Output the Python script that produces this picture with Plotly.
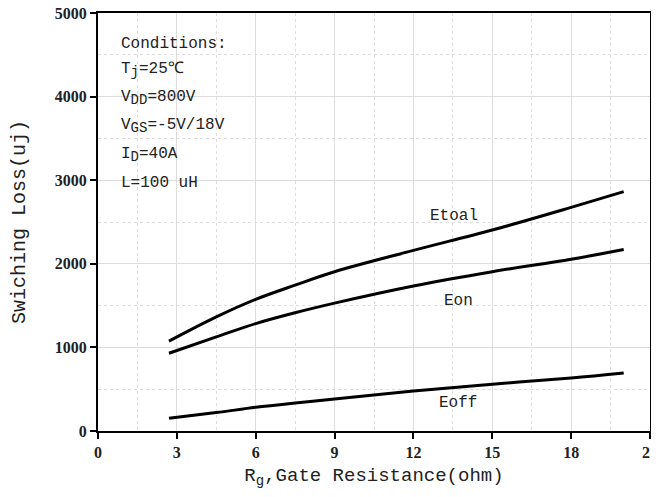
import plotly.graph_objects as go

rg = [2.7, 4.5, 6, 7.5, 9, 12, 15, 18, 20]
etotal = [1075, 1365, 1575, 1745, 1905, 2160, 2404, 2675, 2863]
eon = [930, 1125, 1285, 1415, 1530, 1735, 1906, 2054, 2170]
eoff = [152, 220, 283, 335, 383, 478, 560, 635, 695]

curve_labels = ["Etoal", "Eon", "Eoff"]
label_x = [13.56, 13.7, 13.7]
label_y = [2572, 1555, 335]

def sub(s):
    return '<sub><span style="font-size:14px">' + s + '</span></sub>'

conditions = ["Conditions:", "T" + sub("j") + "=25\u2103", "V" + sub("DD") + "=800V",
              "V" + sub("GS") + "=-5V/18V", "I" + sub("D") + "=40A", "L=100 uH"]
cond_y = [4629, 4318, 3983, 3648, 3301, 2967]

x_ticks = [0, 3, 6, 9, 12, 15, 18, 21]
y_ticks = [0, 1000, 2000, 3000, 4000, 5000]

mono = "Liberation Mono"
serif = "Liberation Serif"

fig = go.Figure()
for ys in (etotal, eon, eoff):
    fig.add_trace(go.Scatter(x=rg, y=ys, mode="lines", line=dict(color="black", width=3, shape="spline"),
                             showlegend=False, cliponaxis=False))

for t, x, y in zip(curve_labels, label_x, label_y):
    fig.add_annotation(x=x, y=y, text=t, showarrow=False, font=dict(family=mono, size=16, color="#222"))

fig.add_shape(type="rect", x0=0.42, x1=4.9, y0=2760, y1=4800, fillcolor="white", line=dict(width=0), layer="below")
for t, y in zip(conditions, cond_y):
    fig.add_annotation(x=0.8, y=y, text=t, showarrow=False, xanchor="left",
                       font=dict(family=mono, size=16, color="#222"))

grid = "#dddddd"
fig.update_xaxes(range=[0, 21], tickvals=x_ticks, ticktext=[str(v) for v in x_ticks], automargin=False,
                 ticklabeloverflow="allow",
                 showline=True, linecolor="black", linewidth=2, mirror=True,
                 ticks="outside", ticklen=6, tickwidth=2, tickcolor="black",
                 showgrid=True, gridcolor=grid, gridwidth=1, zeroline=False,
                 minor=dict(tickvals=[1.5, 4.5, 7.5, 10.5, 13.5, 16.5, 19.5], showgrid=True,
                            gridcolor=grid, griddash="dot", gridwidth=1),
                 tickfont=dict(family=serif, size=16, color="#222", weight="bold"),
                 title=dict(text="R" + sub("g") + ",Gate Resistance(ohm)", font=dict(family=mono, size=19, color="#222"),
                            standoff=9))
fig.update_yaxes(range=[0, 5000], tickvals=y_ticks, ticktext=[str(v) for v in y_ticks], automargin=False,
                 ticklabeloverflow="allow",
                 showline=True, linecolor="black", linewidth=2, mirror=True,
                 ticks="outside", ticklen=6, tickwidth=2, tickcolor="black",
                 showgrid=True, gridcolor=grid, gridwidth=1, zeroline=False,
                 minor=dict(tickvals=[500, 1500, 2500, 3500, 4500], showgrid=True,
                            gridcolor=grid, griddash="dot", gridwidth=1),
                 tickfont=dict(family=serif, size=16, color="#222", weight="bold"),
                 title=dict(text="Swiching Loss(uj)", font=dict(family=mono, size=20, color="#222"),
                            standoff=24))

fig.update_layout(width=651, height=481, margin=dict(l=90, r=9, t=5, b=58),
                  plot_bgcolor="white", paper_bgcolor="white")
fig.write_html("out.html")
